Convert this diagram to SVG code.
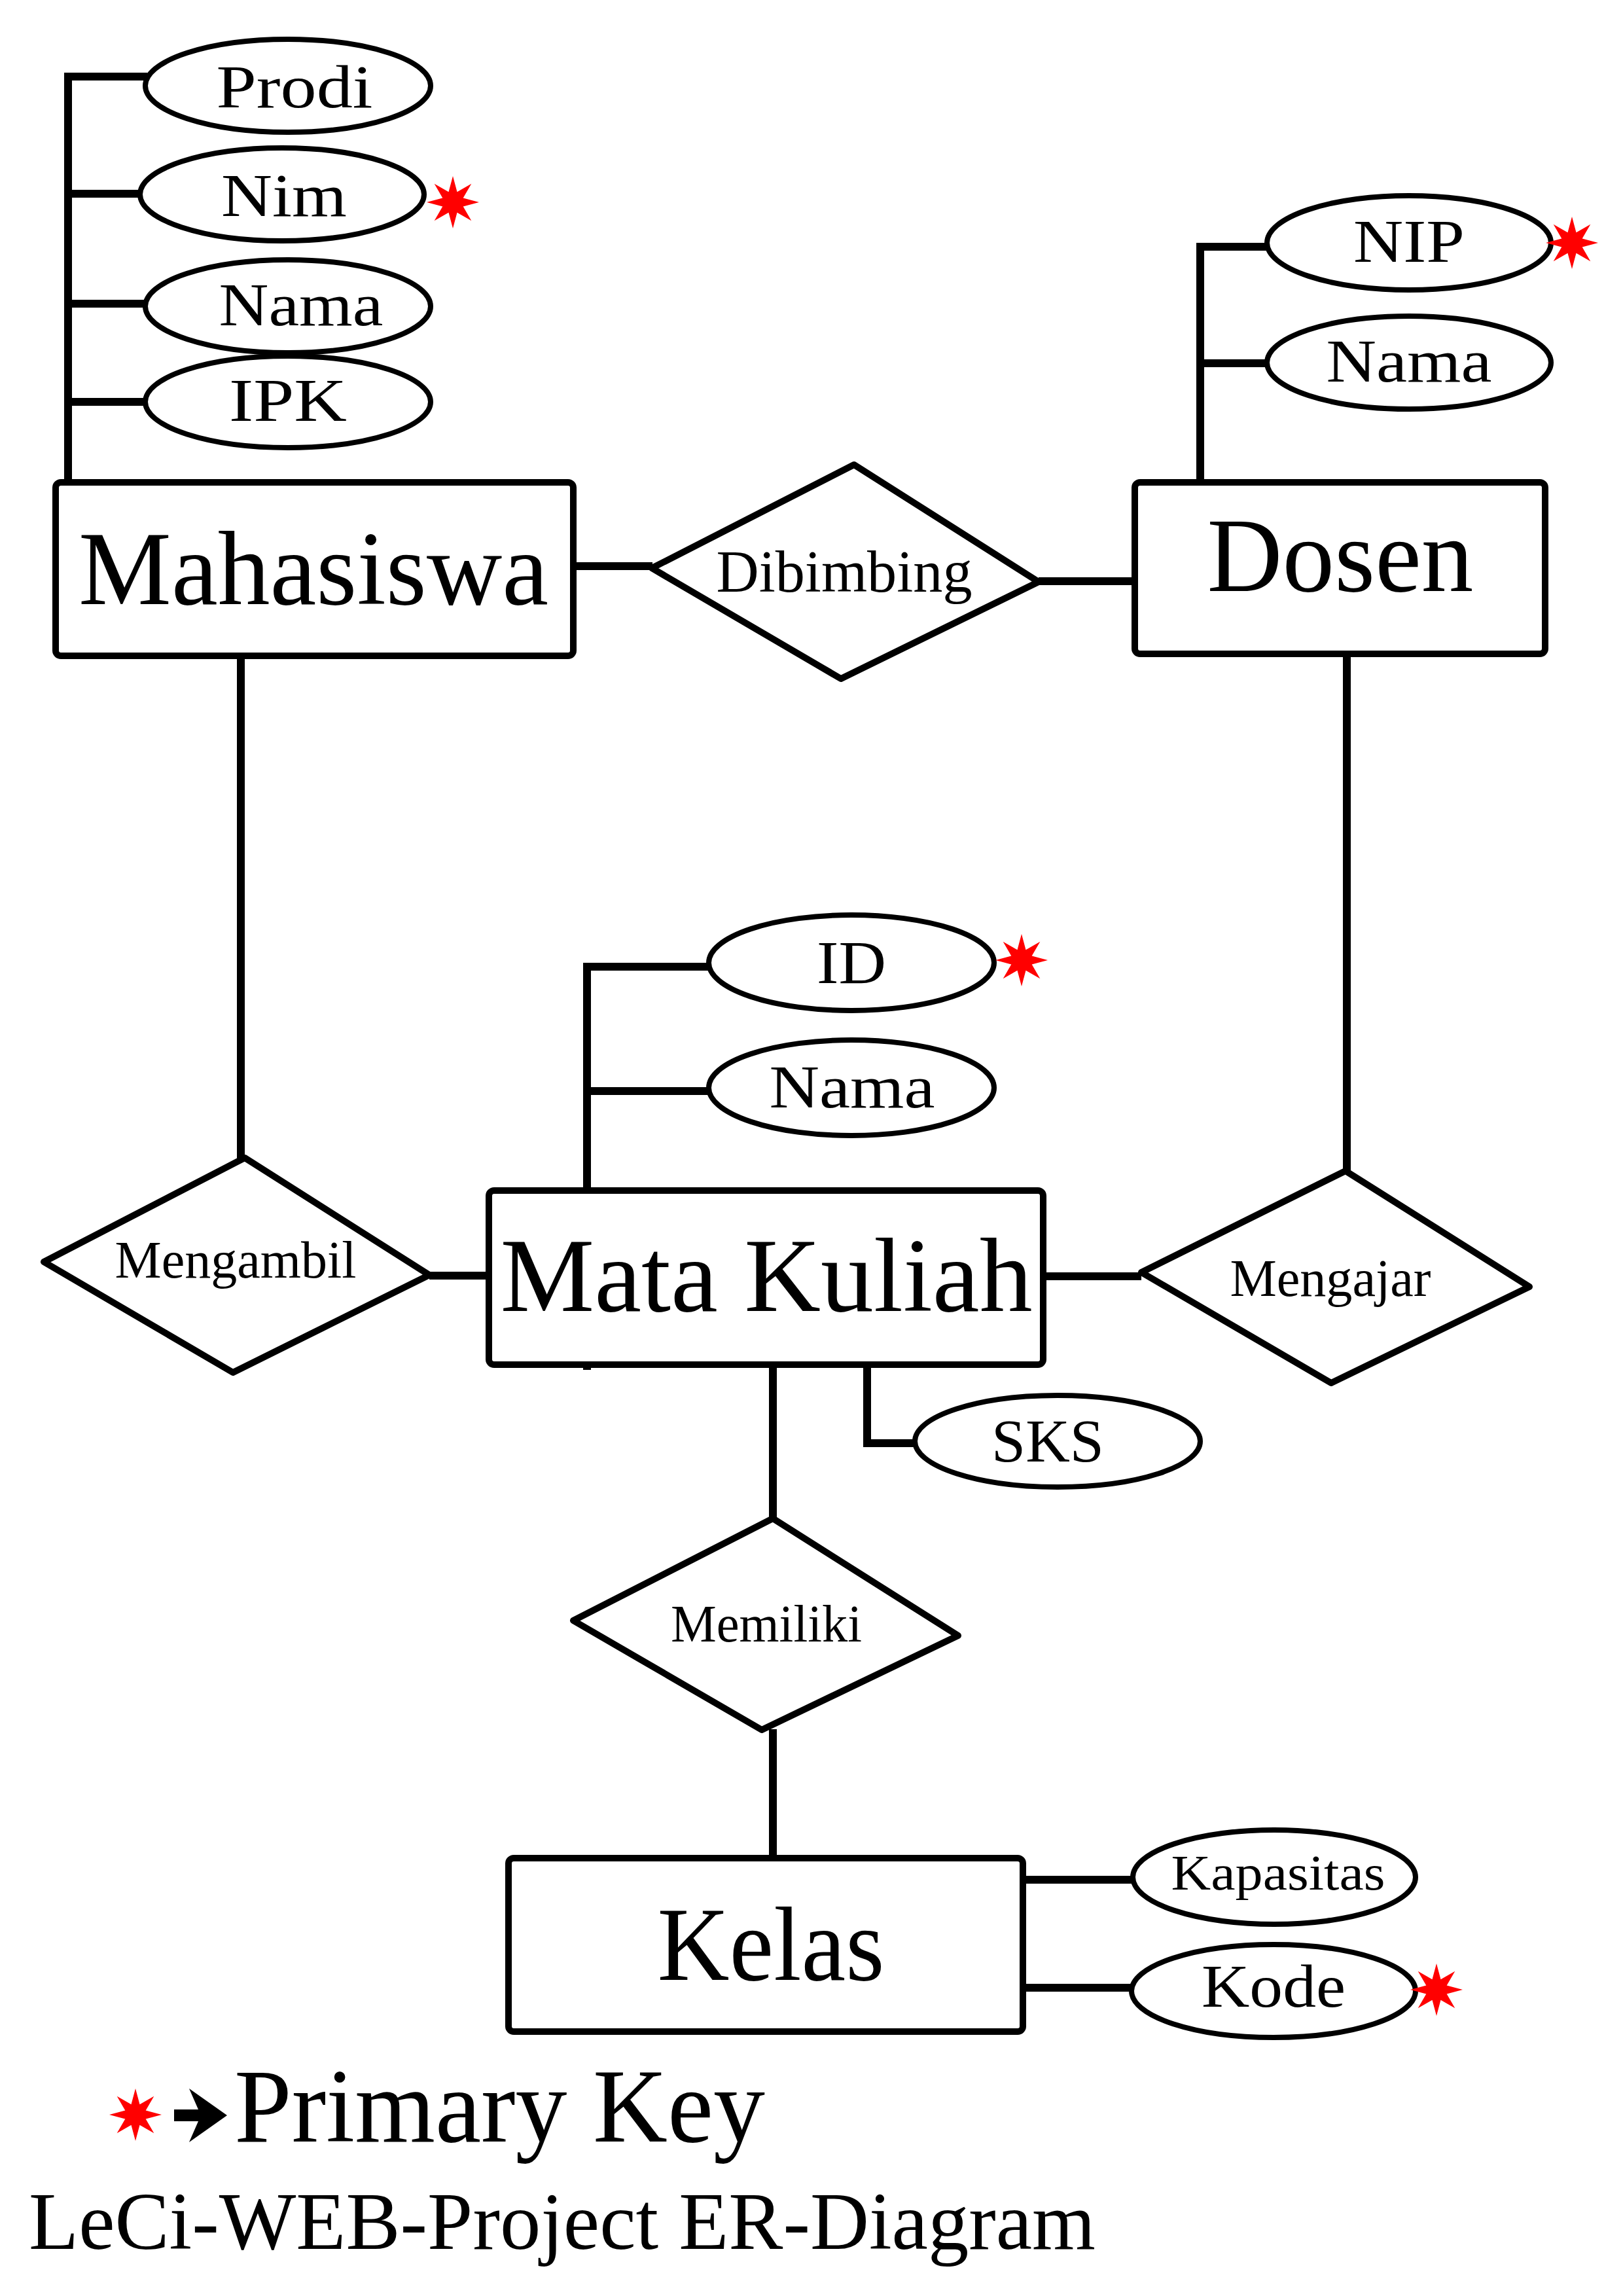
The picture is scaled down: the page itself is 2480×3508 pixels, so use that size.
<svg xmlns="http://www.w3.org/2000/svg" xmlns:xlink="http://www.w3.org/1999/xlink" width="2480" height="3508" viewBox="0 0 2480 3508">
<style>
.ln{stroke:#000;stroke-width:12;fill:none;stroke-linejoin:miter}
.ent{fill:#fff;stroke:#000;stroke-width:10}
.attr{fill:#fff;stroke:#000;stroke-width:8}
.rel{fill:#fff;stroke:#000;stroke-width:10;stroke-linejoin:round}
.t{font-family:"Liberation Serif","Times New Roman",serif;fill:#000;text-anchor:middle}
.te{font-size:160px}
.ta{font-size:94px}
.tr{font-size:80px}
.pk{fill:#ff0000}
</style>
<defs>
<polygon id="star" points="0,-40 6.5,-15.7 28.3,-28.3 15.7,-6.5 40,0 15.7,6.5 28.3,28.3 6.5,15.7 0,40 -6.5,15.7 -28.3,28.3 -15.7,6.5 -40,0 -15.7,-6.5 -28.3,-28.3 -6.5,-15.7"/>
</defs>
<rect width="2480" height="3508" fill="#fff"/>
<g id="connectors">
<path class="ln" d="M225,117 H104 V735"/>
<path class="ln" d="M104,296 H214"/>
<path class="ln" d="M104,464 H223"/>
<path class="ln" d="M104,614 H223"/>
<path class="ln" d="M876,865 H997"/>
<path class="ln" d="M1587,888 H1734"/>
<path class="ln" d="M1937,377 H1834 V737"/>
<path class="ln" d="M1834,555 H1937"/>
<path class="ln" d="M368,1002 V1770"/>
<path class="ln" d="M656,1949 H747"/>
<path class="ln" d="M2058,999 V1790"/>
<path class="ln" d="M1594,1950 H1744"/>
<path class="ln" d="M1084,1477 H897 V2093"/>
<path class="ln" d="M897,1667 H1084"/>
<path class="ln" d="M1181,2085 V2321"/>
<path class="ln" d="M1325,2085 V2205 H1399"/>
<path class="ln" d="M1181,2642 V2839"/>
<path class="ln" d="M1563,2872 H1732"/>
<path class="ln" d="M1563,3037 H1729"/>
</g>
<g id="mahasiswa">
<rect class="ent" x="85" y="737" width="791" height="265" rx="8"/>
<text class="t te" x="479" y="923" textLength="718" lengthAdjust="spacingAndGlyphs">Mahasiswa</text>
</g>
<g id="attr-prodi">
<ellipse class="attr" cx="440" cy="131" rx="218" ry="71"/>
<text class="t ta" x="450" y="164" textLength="239" lengthAdjust="spacingAndGlyphs">Prodi</text>
</g>
<g id="attr-nim">
<ellipse class="attr" cx="431" cy="297" rx="217" ry="71"/>
<text class="t ta" x="434" y="330" textLength="192" lengthAdjust="spacingAndGlyphs">Nim</text>
<use href="#star" xlink:href="#star" class="pk" x="692" y="309"/>
</g>
<g id="attr-nama-mhs">
<ellipse class="attr" cx="440" cy="468" rx="218" ry="71"/>
<text class="t ta" x="460" y="497" textLength="251" lengthAdjust="spacingAndGlyphs">Nama</text>
</g>
<g id="attr-ipk">
<ellipse class="attr" cx="440" cy="614" rx="218" ry="70"/>
<text class="t ta" x="440" y="643" textLength="180" lengthAdjust="spacingAndGlyphs">IPK</text>
</g>
<g id="dibimbing">
<polygon class="rel" points="996,868 1305,710 1587,889 1285,1037"/>
<text class="t" style="font-size:90px" x="1290" y="904" textLength="391" lengthAdjust="spacingAndGlyphs">Dibimbing</text>
</g>
<g id="dosen">
<rect class="ent" x="1734" y="737" width="627" height="262" rx="8"/>
<text class="t te" x="2048" y="903" textLength="407" lengthAdjust="spacingAndGlyphs">Dosen</text>
</g>
<g id="attr-nip">
<ellipse class="attr" cx="2153" cy="371" rx="217" ry="72"/>
<text class="t ta" x="2153" y="400" textLength="170" lengthAdjust="spacingAndGlyphs">NIP</text>
<use href="#star" xlink:href="#star" class="pk" x="2402" y="371"/>
</g>
<g id="attr-nama-dosen">
<ellipse class="attr" cx="2153" cy="554" rx="217" ry="71"/>
<text class="t ta" x="2153" y="583" textLength="253" lengthAdjust="spacingAndGlyphs">Nama</text>
</g>
<g id="mengambil">
<polygon class="rel" points="67,1928 374,1769 656,1948 356,2097"/>
<text class="t tr" x="360" y="1952" textLength="369" lengthAdjust="spacingAndGlyphs">Mengambil</text>
</g>
<g id="mata-kuliah">
<rect class="ent" x="747" y="1819" width="847" height="266" rx="8"/>
<text class="t te" x="1171" y="2003" textLength="813" lengthAdjust="spacingAndGlyphs">Mata Kuliah</text>
</g>
<g id="attr-id">
<ellipse class="attr" cx="1301" cy="1471" rx="218" ry="73"/>
<text class="t ta" x="1301" y="1502" textLength="106" lengthAdjust="spacingAndGlyphs">ID</text>
<use href="#star" xlink:href="#star" class="pk" x="1561" y="1467"/>
</g>
<g id="attr-nama-mk">
<ellipse class="attr" cx="1301" cy="1662" rx="218" ry="73"/>
<text class="t ta" x="1302" y="1692" textLength="253" lengthAdjust="spacingAndGlyphs">Nama</text>
</g>
<g id="attr-sks">
<ellipse class="attr" cx="1616" cy="2202" rx="218" ry="70"/>
<text class="t ta" x="1601" y="2233" textLength="172" lengthAdjust="spacingAndGlyphs">SKS</text>
</g>
<g id="mengajar">
<polygon class="rel" points="1744,1944 2056,1789 2337,1966 2034,2113"/>
<text class="t tr" x="2033" y="1980" textLength="307" lengthAdjust="spacingAndGlyphs">Mengajar</text>
</g>
<g id="memiliki">
<polygon class="rel" points="876,2476 1181,2320 1464,2499 1164,2643"/>
<text class="t tr" x="1171" y="2508" textLength="292" lengthAdjust="spacingAndGlyphs">Memiliki</text>
</g>
<g id="kelas">
<rect class="ent" x="777" y="2839" width="786" height="265" rx="8"/>
<text class="t te" x="1178" y="3025" textLength="347" lengthAdjust="spacingAndGlyphs">Kelas</text>
</g>
<g id="attr-kapasitas">
<ellipse class="attr" cx="1947" cy="2868" rx="216" ry="72"/>
<text class="t" style="font-size:76px" x="1953" y="2887" textLength="327" lengthAdjust="spacingAndGlyphs">Kapasitas</text>
</g>
<g id="attr-kode">
<ellipse class="attr" cx="1946" cy="3042" rx="217" ry="71"/>
<text class="t ta" x="1946" y="3066" textLength="220" lengthAdjust="spacingAndGlyphs">Kode</text>
<use href="#star" xlink:href="#star" class="pk" x="2195" y="3040"/>
</g>
<g id="legend">
<use href="#star" xlink:href="#star" class="pk" x="207" y="3231"/>
<polygon fill="#000" points="266,3223 303,3223 289,3191 347,3232 289,3273 303,3241 266,3241"/>
<text class="t" style="font-size:160px;text-anchor:start" x="358" y="3272" textLength="811" lengthAdjust="spacingAndGlyphs">Primary Key</text>
</g>
<g id="title">
<text class="t" style="font-size:124px;text-anchor:start" x="44" y="3436" textLength="1630" lengthAdjust="spacingAndGlyphs">LeCi-WEB-Project ER-Diagram</text>
</g>
</svg>
